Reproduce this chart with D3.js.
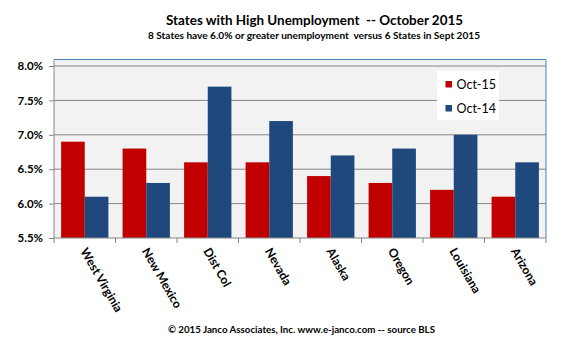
<!DOCTYPE html>
<html><head><meta charset="utf-8">
<script src="https://cdn.jsdelivr.net/npm/d3@7"></script>
<style>body{margin:0;background:#fff}svg{display:block}text{font-family:Lato,"Liberation Sans",sans-serif;white-space:pre}</style>
</head><body><div id="chart"></div>
<script>
const states = ["West Virginia","New Mexico","Dist Col","Nevada","Alaska","Oregon","Louisiana","Arizona"];
const oct15 = [6.9, 6.8, 6.6, 6.6, 6.4, 6.3, 6.2, 6.1];
const oct14 = [6.1, 6.3, 7.7, 7.2, 6.7, 6.8, 7.0, 6.6];
const seriesNames = ["Oct-15","Oct-14"];
const seriesColors = ["#C00000","#1F497D"];
const yTicks = [5.5, 6.0, 6.5, 7.0, 7.5, 8.0];
const title = "States with High Unemployment  -- October 2015";
const subtitle = "8 States have 6.0% or greater unemployment  versus 6 States in Sept 2015";
const footer = "© 2015 Janco Associates, Inc. www.e-janco.com -- source BLS";

(function () {
const W = 580, H = 348;
const svg = d3.select("#chart").append("svg").attr("width", W).attr("height", H);
const pL = 54, pR = 546, pT = 59.5, pB = 238;

const x = d3.scaleBand().domain(states).range([pL, pR]).paddingInner(0).paddingOuter(0);
const x1 = d3.scaleBand().domain(seriesNames).range([0, x.bandwidth()]).paddingInner(0).paddingOuter(0.3);
const y = d3.scaleLinear().domain([5.5, 8.0]).range([pB, 66]);

svg.append("rect").attr("x", pL).attr("y", pT).attr("width", pR - pL).attr("height", pB - pT).attr("fill", "#F2F2F2");

svg.append("g").selectAll("line").data(yTicks.slice(1)).join("line")
  .attr("x1", pL).attr("x2", pR).attr("y1", d => y(d)).attr("y2", d => y(d))
  .attr("stroke", "#868686").attr("stroke-width", 1);

const data = states.map((s, i) => ({state: s, vals: [oct15[i], oct14[i]]}));
const g = svg.append("g").selectAll("g").data(data).join("g").attr("transform", d => `translate(${x(d.state)},0)`);
g.selectAll("rect").data(d => d.vals.map((v, k) => ({k, v}))).join("rect")
  .attr("x", d => x1(seriesNames[d.k])).attr("width", x1.bandwidth())
  .attr("y", d => y(d.v)).attr("height", d => pB - y(d.v))
  .attr("fill", d => seriesColors[d.k]);

svg.append("path").attr("d", `M${pL},${pT}H${pR}V${pB}`).attr("fill", "none").attr("stroke", "#4F81BD").attr("stroke-width", 1);

const yAxis = svg.append("g").attr("transform", `translate(${pL},0)`)
  .call(d3.axisLeft(y).tickValues(yTicks).tickFormat(d => d.toFixed(1) + "%").tickSize(5).tickSizeOuter(0));
yAxis.select(".domain").attr("stroke", "#868686").attr("d", `M0,${pB}V${pT}`);
yAxis.selectAll(".tick line").attr("stroke", "#868686");
yAxis.selectAll("text").attr("font-family", "Lato").attr("font-size", 11.5).attr("font-weight", "bold").attr("fill", "#000").attr("x", -11);

const xAxis = svg.append("g").attr("transform", `translate(0,${pB})`);
xAxis.append("line").attr("x1", pL).attr("x2", pR).attr("stroke", "#868686");
const bounds = states.map(s => x(s)).concat([pR]);
xAxis.selectAll(".tk").data(bounds).join("line").attr("class", "tk")
  .attr("x1", d => d).attr("x2", d => d).attr("y1", 0).attr("y2", 5).attr("stroke", "#868686");
xAxis.selectAll(".lbl").data(states).join("text").attr("class", "lbl")
  .attr("transform", d => `translate(${x(d) + x.bandwidth() / 2 - 1},${11}) rotate(60)`)
  .attr("font-size", 12).attr("font-weight", "bold").attr("fill", "#000")
  .attr("text-anchor", "start").attr("dy", "0.35em").text(d => d);

const lg = svg.append("g");
lg.append("rect").attr("x", 437).attr("y", 71).attr("width", 62).attr("height", 49).attr("fill", "#fff");
seriesNames.forEach((n, i) => {
  lg.append("rect").attr("x", 445.5).attr("y", 81 + i * 24).attr("width", 6.5).attr("height", 6.5).attr("fill", seriesColors[i]);
  lg.append("text").attr("x", 456.5).attr("y", 88.5 + i * 24).attr("font-size", 12.5).attr("fill", "#000").text(n);
});

svg.append("text").attr("x", 166).attr("y", 25).attr("font-size", 14).attr("font-weight", "bold")
  .attr("textLength", 297).attr("lengthAdjust", "spacingAndGlyphs").text(title);
svg.append("text").attr("x", 148).attr("y", 38.5).attr("font-size", 10).attr("font-weight", "bold")
  .attr("textLength", 332).attr("lengthAdjust", "spacingAndGlyphs").text(subtitle);
svg.append("text").attr("x", 168).attr("y", 333).attr("font-size", 10).attr("font-weight", "bold")
  .attr("textLength", 267).attr("lengthAdjust", "spacingAndGlyphs").text(footer);
})();
</script></body></html>
